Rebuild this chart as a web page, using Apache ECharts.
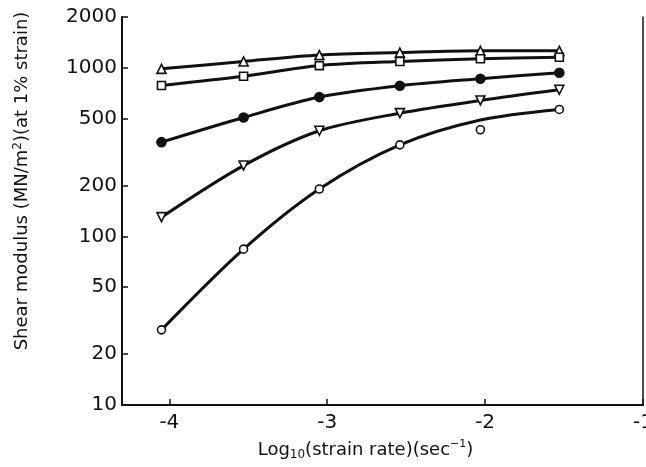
<!DOCTYPE html>
<html>
<head>
<meta charset="utf-8">
<script src="https://cdn.jsdelivr.net/npm/echarts@6/dist/echarts.min.js"></script>
<style>html,body{margin:0;padding:0;background:#fff;}#c{width:646px;height:467px;}</style>
</head>
<body>
<div id="c"></div>
<script>
// Data
const xValues = [-4.05, -3.53, -3.05, -2.54, -2.03, -1.53];
const triUpValues = [985, 1090, 1190, 1230, 1260, 1260];
const squareValues = [785, 890, 1030, 1090, 1130, 1155];
const filledCircleValues = [362, 507, 670, 782, 861, 935];
const triDownValues = [130, 263, 423, 538, 640, 740];
const openCircleValues = [27.9, 84, 191, 349, 429, 566];
// fitted curve through open circles (curve passes above the point at -2.03)
const openCircleCurve = [27.9, 84, 191, 349, 490, 566];
const xTicks = [-4, -3, -2, -1];
const yTicks = [10, 20, 50, 100, 200, 500, 1000, 2000];

const pairs = (ys) => xValues.map((x, i) => [x, ys[i]]);
const FONT = 'DejaVu Sans';
const INK = '#111';

const lineSeries = (ys, symbol, size, fill, rotate) => ({
  type: 'line',
  data: pairs(ys),
  smooth: 0.3,
  symbol: symbol,
  symbolSize: size,
  symbolRotate: rotate || 0,
  showAllSymbol: true,
  lineStyle: { color: INK, width: 3 },
  itemStyle: { color: fill, borderColor: INK, borderWidth: 1.6, opacity: 1 },
  z: 3
});

const chart = echarts.init(document.getElementById('c'), null, { renderer: 'canvas' });
chart.setOption({
  animation: false,
  backgroundColor: '#fff',
  grid: { left: 122, right: 3, top: 17, bottom: 62, containLabel: false, outerBoundsMode: 'none' },
  xAxis: {
    type: 'value',
    min: -4.3,
    max: -1,
    splitLine: { show: false },
    axisLine: { show: true, lineStyle: { color: INK, width: 2 } },
    axisTick: { show: true, inside: true, length: 6, customValues: xTicks, lineStyle: { color: INK, width: 1.5 } },
    axisLabel: { customValues: xTicks, color: INK, fontFamily: FONT, fontSize: 20, margin: 8,
      formatter: (v) => String(v) },
    name: '{n|Log}{sub|10}{n|(strain rate)(sec}{sup|−1}{n|)}',
    nameLocation: 'middle',
    nameGap: 34,
    nameTextStyle: {
      padding: [0, 34, 0, 0],
      rich: {
        n: { fontFamily: FONT, fontSize: 18, color: INK },
        sub: { fontFamily: FONT, fontSize: 12, color: INK, verticalAlign: 'bottom', padding: [10, 0, 0, 0] },
        sup: { fontFamily: FONT, fontSize: 11, color: INK, verticalAlign: 'top', padding: [0, 0, 8, 0] }
      }
    }
  },
  yAxis: [{
    type: 'log',
    logBase: 10,
    min: 10,
    max: 2000,
    splitLine: { show: false },
    axisLine: { show: true, lineStyle: { color: INK, width: 2 } },
    axisTick: { show: true, inside: true, length: 6, customValues: yTicks, lineStyle: { color: INK, width: 1.5 } },
    axisLabel: { customValues: yTicks, color: INK, fontFamily: FONT, fontSize: 20, margin: 5,
      formatter: (v) => String(Math.round(v)) },
    name: '{n|Shear modulus (MN/m}{sup|2}{n|)(at 1% strain)}',
    nameLocation: 'middle',
    nameGap: 90,
    nameTextStyle: {
      padding: [0, 0, 0, 60],
      rich: {
        n: { fontFamily: FONT, fontSize: 18, color: INK },
        sup: { fontFamily: FONT, fontSize: 12, color: INK, verticalAlign: 'top', padding: [0, 0, 8, 0] }
      }
    }
  }, {
    type: 'log',
    logBase: 10,
    min: 10,
    max: 2000,
    position: 'right',
    splitLine: { show: false },
    axisLine: { show: true, lineStyle: { color: INK, width: 1.5 } },
    axisTick: { show: false },
    axisLabel: { show: false }
  }],
  series: [
    lineSeries(triUpValues, 'triangle', 9, '#fff'),
    lineSeries(squareValues, 'rect', 8, '#fff'),
    lineSeries(filledCircleValues, 'circle', 9, INK),
    lineSeries(triDownValues, 'triangle', 9, '#fff', 180),
    {
      type: 'line',
      data: pairs(openCircleCurve),
      smooth: 0.3,
      symbol: 'none',
      lineStyle: { color: INK, width: 3 },
      z: 3
    },
    {
      type: 'scatter',
      data: pairs(openCircleValues),
      symbol: 'circle',
      symbolSize: 8,
      itemStyle: { color: '#fff', borderColor: INK, borderWidth: 1.6, opacity: 1 },
      z: 4
    }
  ]
});
</script>
</body>
</html>
